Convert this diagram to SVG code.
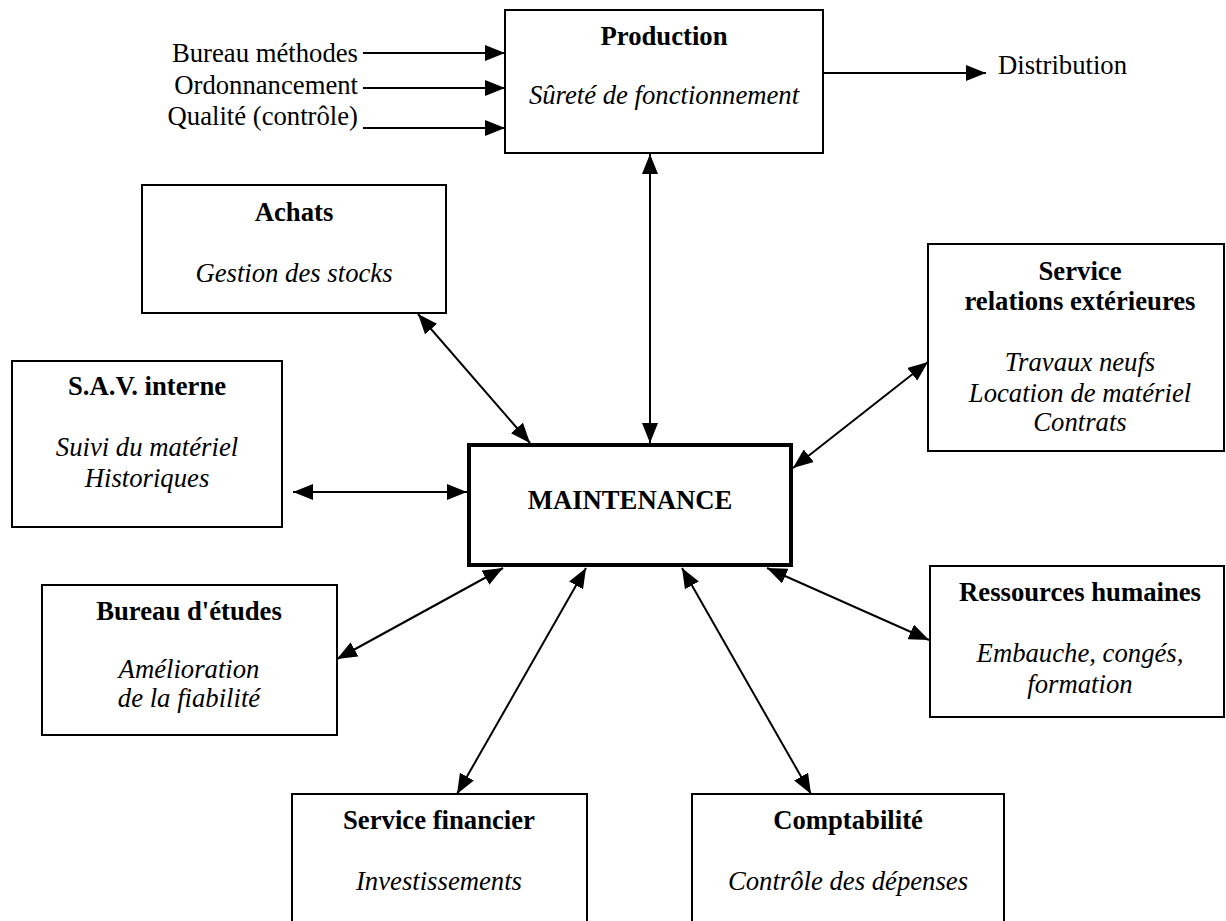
<svg xmlns="http://www.w3.org/2000/svg" width="1226" height="921" viewBox="0 0 1226 921">
<style>
.box{fill:#fff;stroke:#000;stroke-width:2}
.main{fill:#fff;stroke:#000;stroke-width:4}
.t{font-family:"Liberation Serif","Times New Roman",serif;font-size:26.7px;fill:#000}
.b{font-weight:bold}
.i{font-style:italic}
.c{text-anchor:middle}
.e{text-anchor:end}
.ln{stroke:#000;stroke-width:2;fill:none}
.one{marker-end:url(#ah)}
.two{marker-start:url(#ah);marker-end:url(#ah)}
</style>
<defs>
<marker id="ah" markerUnits="userSpaceOnUse" markerWidth="20" markerHeight="16" refX="20" refY="8" orient="auto-start-reverse" viewBox="0 0 20 16">
<path d="M0,0 L20,8 L0,16 z" fill="#000"/>
</marker>
</defs>
<rect width="1226" height="921" fill="#fff"/>
<g id="connectors">
<line class="ln one" x1="363" y1="53" x2="505" y2="53"/>
<line class="ln one" x1="363" y1="88" x2="505" y2="88"/>
<line class="ln one" x1="363" y1="128" x2="505" y2="128"/>
<line class="ln one" x1="823" y1="73" x2="986" y2="73"/>
<line class="ln two" x1="650" y1="154" x2="650" y2="443"/>
<line class="ln two" x1="418" y1="314" x2="530" y2="443"/>
<line class="ln two" x1="293" y1="492" x2="467" y2="492"/>
<line class="ln two" x1="928" y1="362" x2="793" y2="468"/>
<line class="ln two" x1="767" y1="568" x2="929" y2="640"/>
<line class="ln two" x1="337" y1="659" x2="503" y2="568"/>
<line class="ln two" x1="457" y1="794" x2="586" y2="568"/>
<line class="ln two" x1="682" y1="568" x2="811" y2="794"/>
</g>
<g id="inputs">
<text class="t e" x="358" y="62">Bureau méthodes</text>
<text class="t e" x="358" y="94">Ordonnancement</text>
<text class="t e" x="358" y="125">Qualité (contrôle)</text>
<text class="t" x="998" y="74">Distribution</text>
</g>
<g id="production">
<rect class="box" x="505" y="10" width="318" height="143"/>
<text class="t b c" x="664" y="45">Production</text>
<text class="t i c" x="664" y="104">Sûreté de fonctionnement</text>
</g>
<g id="achats">
<rect class="box" x="142" y="185" width="304" height="128"/>
<text class="t b c" x="294" y="221">Achats</text>
<text class="t i c" x="294" y="282">Gestion des stocks</text>
</g>
<g id="sav">
<rect class="box" x="12" y="361" width="270" height="166"/>
<text class="t b c" x="147" y="395">S.A.V. interne</text>
<text class="t i c" x="147" y="456">Suivi du matériel</text>
<text class="t i c" x="147" y="487">Historiques</text>
</g>
<g id="maintenance">
<rect class="main" x="469" y="445" width="322" height="120"/>
<text class="t b c" x="630" y="509">MAINTENANCE</text>
</g>
<g id="sre">
<rect class="box" x="928" y="244" width="296" height="207"/>
<text class="t b c" x="1080" y="280">Service</text>
<text class="t b c" x="1080" y="310">relations extérieures</text>
<text class="t i c" x="1080" y="371">Travaux neufs</text>
<text class="t i c" x="1080" y="402">Location de matériel</text>
<text class="t i c" x="1080" y="431">Contrats</text>
</g>
<g id="rh">
<rect class="box" x="930" y="566" width="294" height="151"/>
<text class="t b c" x="1080" y="601">Ressources humaines</text>
<text class="t i c" x="1080" y="662">Embauche, congés,</text>
<text class="t i c" x="1080" y="693">formation</text>
</g>
<g id="bureau-etudes">
<rect class="box" x="42" y="585" width="295" height="150"/>
<text class="t b c" x="189" y="620">Bureau d'études</text>
<text class="t i c" x="189" y="678">Amélioration</text>
<text class="t i c" x="189" y="707">de la fiabilité</text>
</g>
<g id="service-financier">
<rect class="box" x="292" y="794" width="295" height="140"/>
<text class="t b c" x="439" y="829">Service financier</text>
<text class="t i c" x="439" y="890">Investissements</text>
</g>
<g id="comptabilite">
<rect class="box" x="692" y="794" width="312" height="140"/>
<text class="t b c" x="848" y="829">Comptabilité</text>
<text class="t i c" x="848" y="890">Contrôle des dépenses</text>
</g>
</svg>
